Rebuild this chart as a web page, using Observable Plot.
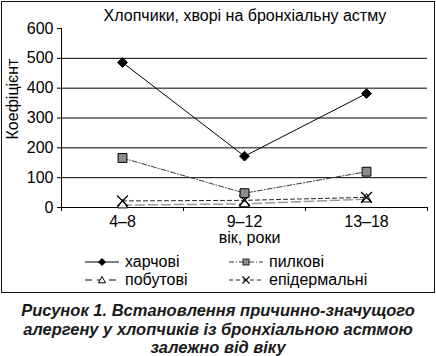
<!DOCTYPE html>
<html>
<head>
<meta charset="utf-8">
<script src="https://cdn.jsdelivr.net/npm/d3@7"></script>
<script src="https://cdn.jsdelivr.net/npm/@observablehq/plot@0.6"></script>
<style>
  html, body { margin: 0; padding: 0; background: #fff; }
  body { width: 436px; height: 356px; position: relative; overflow: hidden;
         font-family: "Liberation Sans", Arial, sans-serif; color: #000; }
  #frame { position: absolute; left: 1px; top: 1px; width: 434px; height: 292px;
           border: 1.5px solid #111; box-sizing: border-box; }
  #title { position: absolute; left: 0; width: 490px; top: 6px; text-align: center;
           font-size: 16px; line-height: 20px; }
  #ylabel { position: absolute; left: 13px; top: 99px; font-size: 16px; line-height: 18px;
            white-space: nowrap; transform: translate(-50%, -50%) rotate(-90deg); }
  #chart { position: absolute; left: 0; top: 24px; }
  .leg { position: absolute; display: flex; align-items: center; font-size: 16px; line-height: 18px; }
  .leg svg { display: block; margin-right: 6px; }
  #caption { position: absolute; left: 0; width: 436px; top: 301px; text-align: center;
             font-weight: bold; font-style: italic; font-size: 16.5px; line-height: 18.5px; color: #1a1a1a; }
</style>
</head>
<body>
<div id="frame"></div>
<div id="title"></div>
<div id="ylabel"></div>
<div id="chart"></div>
<div id="legend"></div>
<div id="caption"></div>
<script>
// ---- data ----
const categories = ["4–8", "9–12", "13–18"];
const food = [486, 172, 382];        // харчові
const pollen = [166, 48, 120];       // пилкові
const household = [8, 12, 28];       // побутові
const epidermal = [22, 24, 34];      // епідермальні
const seriesNames = ["харчові", "пилкові", "побутові", "епідермальні"];
const yTicks = [0, 100, 200, 300, 400, 500, 600];
const gridValues = [100, 200, 300, 400, 500];
const titleText = "Хлопчики, хворі на бронхіальну астму";
const yLabelText = "Коефіцієнт";
const xLabelText = "вік, роки";
const captionLines = ["Рисунок 1. Встановлення причинно-значущого",
                      "алергену у хлопчиків із бронхіальною астмою",
                      "залежно від віку"];

const font = "'Liberation Sans', Arial, sans-serif";
const rows = vals => categories.map((c, i) => ({i, c, v: vals[i]}));
const bounds = d3.range(categories.length + 1).map(k => k - 0.5);

const styles = {
  food:      {stroke: "#000", strokeWidth: 1, dash: null},
  pollen:    {stroke: "#333", strokeWidth: 1, dash: "5,2,1,2"},
  household: {stroke: "#9a9a9a", strokeWidth: 1.5, dash: "9,4"},
  epidermal: {stroke: "#222", strokeWidth: 1, dash: "4,3"}
};

const line = (vals, s) => Plot.line(rows(vals), {x: "i", y: "v", stroke: s.stroke,
  strokeWidth: s.strokeWidth, strokeDasharray: s.dash});

const chart = Plot.plot({
  width: 436, height: 222,
  marginLeft: 61, marginRight: 9, marginTop: 4, marginBottom: 39,
  style: {fontFamily: font, fontSize: "16px", color: "#000", background: "transparent", overflow: "visible"},
  x: {domain: [-0.5, categories.length - 0.5], ticks: bounds, tickFormat: () => "", tickSize: 4, label: null},
  y: {domain: [0, 600], ticks: yTicks, tickSize: 4, tickPadding: 4, label: null},
  marks: [
    Plot.ruleY(gridValues, {stroke: "#000", strokeWidth: 1}),
    Plot.ruleY([0], {stroke: "#000", strokeWidth: 1}),
    Plot.ruleX([-0.5], {stroke: "#000", strokeWidth: 1}),
    Plot.text(categories, {x: (d, i) => i, y: 0, dy: 14, text: d => d, fontSize: 16}),
    Plot.text([xLabelText], {x: 1, y: 0, dy: 30, dx: 5, text: d => d, fontSize: 16}),
    line(household, styles.household),
    line(epidermal, styles.epidermal),
    line(pollen, styles.pollen),
    line(food, styles.food),
    Plot.dot(rows(household), {x: "i", y: "v", symbol: "triangle", r: 3.6, fill: "#fff", stroke: "#000", strokeWidth: 1}),
    Plot.dot(rows(epidermal), {x: "i", y: "v", symbol: "times", r: 5, stroke: "#000", strokeWidth: 1.3}),
    Plot.dot(rows(pollen), {x: "i", y: "v", symbol: "square", r: 5, fill: "#8c8c8c", stroke: "#000", strokeWidth: 1}),
    Plot.dot(rows(food), {x: "i", y: "v", symbol: "diamond2", r: 4.4, fill: "#000", stroke: "#000", strokeWidth: 1})
  ]
});
document.getElementById("chart").appendChild(chart);

document.getElementById("title").textContent = titleText;
document.getElementById("ylabel").textContent = yLabelText;
document.getElementById("caption").innerHTML = captionLines.join("<br>");

// ---- legend ----
function legendSymbol(kind, s) {
  const w = 34, h = 12, cx = w / 2, cy = h / 2;
  let mk = "";
  if (kind === "diamond") mk = `<path d="M${cx},${cy-4}L${cx+4},${cy}L${cx},${cy+4}L${cx-4},${cy}Z" fill="#000"/>`;
  if (kind === "square") mk = `<rect x="${cx-3}" y="${cy-3}" width="6" height="6" fill="#8c8c8c" stroke="#000" stroke-width="0.8"/>`;
  if (kind === "triangle") mk = `<path d="M${cx},${cy-3.5}L${cx+3.5},${cy+2.8}L${cx-3.5},${cy+2.8}Z" fill="#fff" stroke="#000" stroke-width="1"/>`;
  if (kind === "times") mk = `<path d="M${cx-3.5},${cy-3.5}L${cx+3.5},${cy+3.5}M${cx+3.5},${cy-3.5}L${cx-3.5},${cy+3.5}" stroke="#000" stroke-width="1.2"/>`;
  const stroke = kind === "triangle" ? "#000" : s.stroke;
  const dash = kind === "triangle" ? "7,5" : s.dash;
  return `<svg width="${w}" height="${h}"><line x1="0" y1="${cy}" x2="${w}" y2="${cy}" stroke="${stroke}" stroke-width="1" ${dash ? `stroke-dasharray="${dash}"` : ""}/>${mk}</svg>`;
}
const legendItems = [
  {name: seriesNames[0], kind: "diamond", s: styles.food, left: 85, top: 253},
  {name: seriesNames[1], kind: "square", s: styles.pollen, left: 229, top: 253},
  {name: seriesNames[2], kind: "triangle", s: styles.household, left: 85, top: 271},
  {name: seriesNames[3], kind: "times", s: styles.epidermal, left: 229, top: 271}
];
const legend = document.getElementById("legend");
for (const it of legendItems) {
  const d = document.createElement("div");
  d.className = "leg";
  d.style.left = it.left + "px";
  d.style.top = it.top + "px";
  d.innerHTML = legendSymbol(it.kind, it.s) + `<span>${it.name}</span>`;
  legend.appendChild(d);
}
</script>
</body>
</html>
